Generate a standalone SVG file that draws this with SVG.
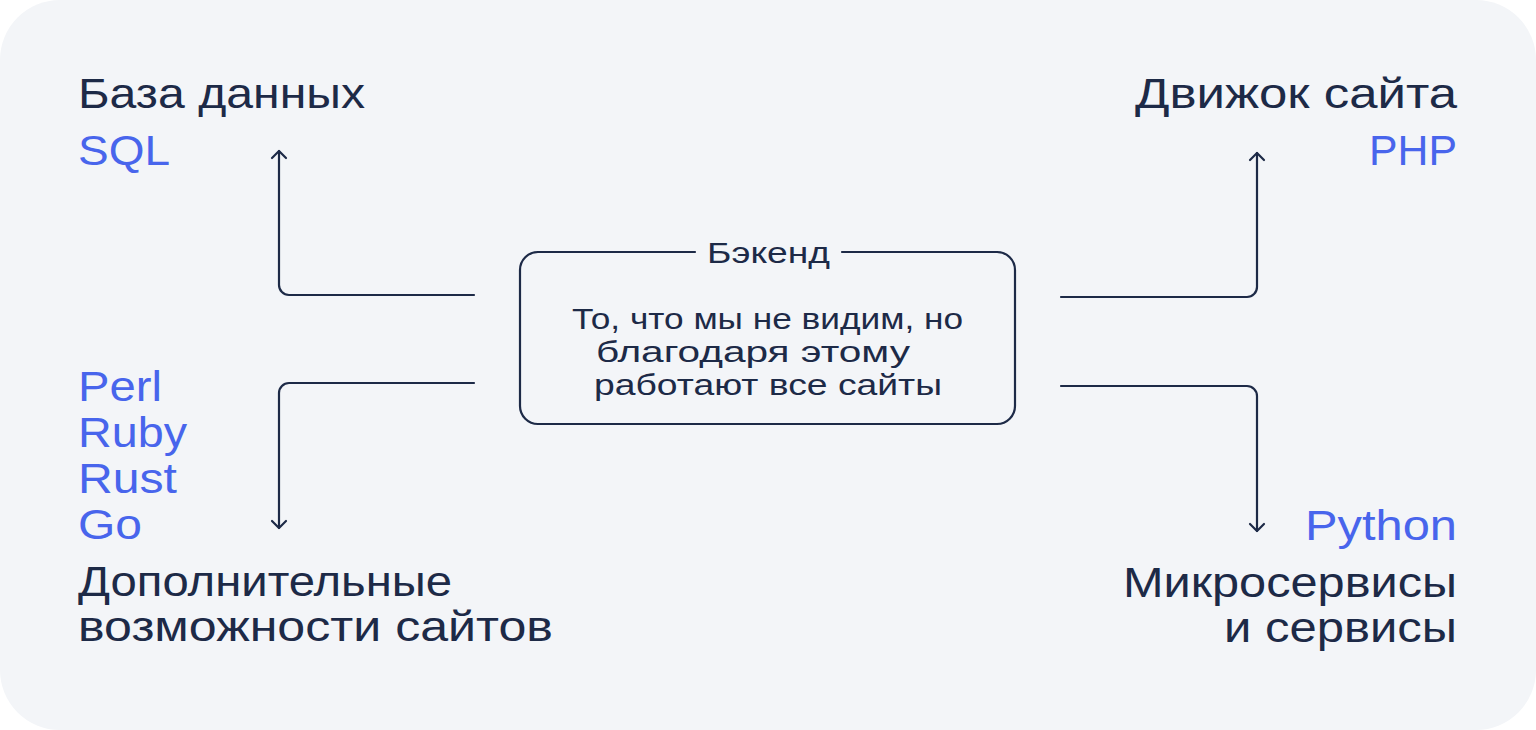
<svg xmlns="http://www.w3.org/2000/svg" width="1536" height="730" viewBox="0 0 1536 730">
  <defs>
    <style>
      .t { font-family: "Liberation Sans", Arial, sans-serif; font-size: 42px; fill: #1D2A47; }
      .b { font-family: "Liberation Sans", Arial, sans-serif; font-size: 42px; fill: #4865EC; }
      .s { font-family: "Liberation Sans", Arial, sans-serif; font-size: 29px; fill: #1D2A47; }
      .ln { fill: none; stroke: #1D2A47; stroke-width: 2.2; stroke-linecap: round; stroke-linejoin: round; }
    </style>
    <marker id="arr" viewBox="-10 -10 20 20" markerWidth="20" markerHeight="20" refX="0" refY="0" orient="auto" markerUnits="userSpaceOnUse">
      <path d="M-7,-7 L0,0 L-7,7" fill="none" stroke="#1D2A47" stroke-width="2.2" stroke-linecap="round" stroke-linejoin="round"/>
    </marker>
  </defs>
  <rect x="0" y="0" width="1536" height="730" fill="#FFFFFF"/>
  <rect x="0" y="0" width="1536" height="730" rx="60" ry="60" fill="#F3F5F8"/>

  <g id="connectors">
    <path class="ln" d="M474,295 H289 A10,10 0 0 1 279,285 V151" marker-end="url(#arr)"/>
    <path class="ln" d="M474,383 H289 A10,10 0 0 0 279,393 V528" marker-end="url(#arr)"/>
    <path class="ln" d="M1061,297 H1247 A10,10 0 0 0 1257,287 V153" marker-end="url(#arr)"/>
    <path class="ln" d="M1061,386 H1247 A10,10 0 0 1 1257,396 V531" marker-end="url(#arr)"/>
  </g>

  <g id="backend">
    <path class="ln" d="M695,252 H538 A18,18 0 0 0 520,270 V406 A18,18 0 0 0 538,424 H997 A18,18 0 0 0 1015,406 V270 A18,18 0 0 0 997,252 H842"/>
    <text class="s" x="707" y="263" textLength="123" lengthAdjust="spacingAndGlyphs">Бэкенд</text>
    <text class="s" x="572" y="329" textLength="391" lengthAdjust="spacingAndGlyphs">То, что мы не видим, но</text>
    <text class="s" x="596" y="362" textLength="314" lengthAdjust="spacingAndGlyphs">благодаря этому</text>
    <text class="s" x="594" y="395" textLength="348" lengthAdjust="spacingAndGlyphs">работают все сайты</text>
  </g>

  <g id="database">
    <text class="t" x="78" y="108" textLength="287" lengthAdjust="spacingAndGlyphs">База данных</text>
    <text class="b" x="78" y="165" textLength="92" lengthAdjust="spacingAndGlyphs">SQL</text>
  </g>

  <g id="engine">
    <text class="t" x="1135" y="108" textLength="322" lengthAdjust="spacingAndGlyphs">Движок сайта</text>
    <text class="b" x="1369" y="165" textLength="88" lengthAdjust="spacingAndGlyphs">PHP</text>
  </g>

  <g id="extra">
    <text class="b" x="78" y="401" textLength="84" lengthAdjust="spacingAndGlyphs">Perl</text>
    <text class="b" x="78" y="447" textLength="109" lengthAdjust="spacingAndGlyphs">Ruby</text>
    <text class="b" x="78" y="493" textLength="99" lengthAdjust="spacingAndGlyphs">Rust</text>
    <text class="b" x="78" y="539" textLength="64" lengthAdjust="spacingAndGlyphs">Go</text>
    <text class="t" x="78" y="596" textLength="374" lengthAdjust="spacingAndGlyphs">Дополнительные</text>
    <text class="t" x="78" y="641" textLength="475" lengthAdjust="spacingAndGlyphs">возможности сайтов</text>
  </g>

  <g id="services">
    <text class="b" x="1305" y="540" textLength="152" lengthAdjust="spacingAndGlyphs">Python</text>
    <text class="t" x="1123" y="597" textLength="334" lengthAdjust="spacingAndGlyphs">Микросервисы</text>
    <text class="t" x="1224" y="642" textLength="233" lengthAdjust="spacingAndGlyphs">и сервисы</text>
  </g>
</svg>
